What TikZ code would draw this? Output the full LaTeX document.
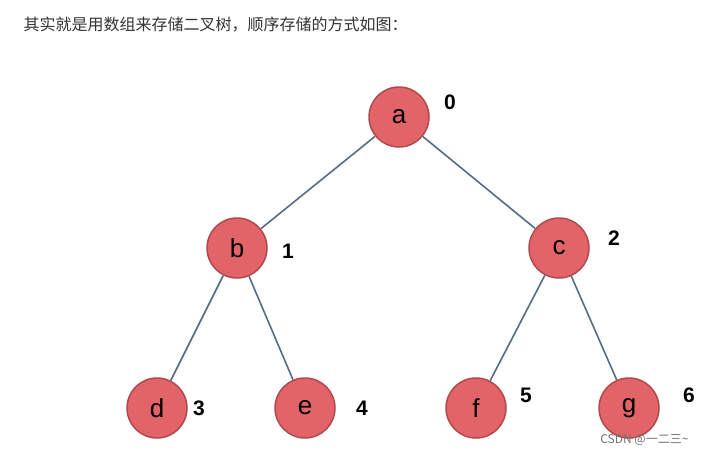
\documentclass[tikz,border=0pt]{standalone}
\usepackage{fontspec}
\setmainfont{Liberation Sans}
\newfontfamily\cjk{Noto Sans CJK SC}
\definecolor{nodefill}{HTML}{E36468}
\definecolor{nodeedge}{HTML}{B04A4E}
\definecolor{edgeline}{HTML}{566D83}
\begin{document}
\begin{tikzpicture}[x=1pt,y=-1pt,
  treenode/.style={circle,fill=nodefill,draw=nodeedge,line width=1.5pt,minimum size=60pt,inner sep=0,font=\fontsize{26}{26}\selectfont},
  idx/.style={font=\fontsize{21}{21}\selectfont\bfseries},
  treeedge/.style={draw=edgeline,line width=1.6pt}]
\useasboundingbox[fill=white] (0,0) rectangle (705,456);
\node[anchor=west,font=\cjk\fontsize{16}{16}\selectfont,text=black!80] (title) at (20,25) {其实就是用数组来存储二叉树，顺序存储的方式如图：};
% tree nodes
\node[treenode] (a) at (399,117) {a};
\node[treenode] (b) at (237,248) {b};
\node[treenode] (c) at (559,248) {c};
\node[treenode] (d) at (157,408) {d};
\node[treenode] (e) at (305,408) {e};
\node[treenode] (f) at (476,408) {f};
\node[treenode] (g) at (629,408) {g};
% edges
\draw[treeedge] (a) -- (b);
\draw[treeedge] (a) -- (c);
\draw[treeedge] (b) -- (d);
\draw[treeedge] (b) -- (e);
\draw[treeedge] (c) -- (f);
\draw[treeedge] (c) -- (g);
% array indices
\node[idx] (i0) at (450,102) {0};
\node[idx] (i1) at (288,251) {1};
\node[idx] (i2) at (614,238) {2};
\node[idx] (i3) at (199,408) {3};
\node[idx] (i4) at (362,408) {4};
\node[idx] (i5) at (526,395) {5};
\node[idx] (i6) at (689,395) {6};
\node[anchor=east,font=\cjk\fontsize{12}{12}\selectfont,text=black!55] (mark) at (692,440) {CSDN @一二三\textasciitilde};
\end{tikzpicture}
\end{document}
